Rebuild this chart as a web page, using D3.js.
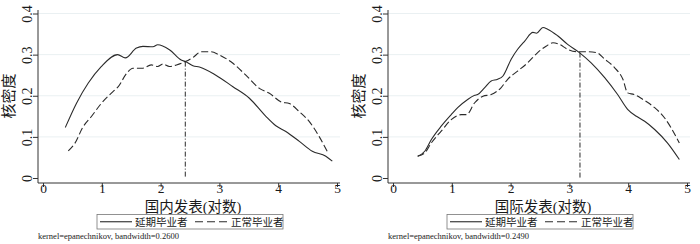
<!DOCTYPE html>
<html>
<head>
<meta charset="utf-8">
<script src="https://cdn.jsdelivr.net/npm/d3@7"></script>
<style>
  body { margin: 0; background: #fff; }
  svg text { fill: #1a1a1a; }
</style>
</head>
<body>
<div id="chart"></div>
<script>
// kernel density estimates
const domesticDelayed = [
  [0.38, 0.123], [0.57, 0.182], [0.77, 0.231], [0.99, 0.271], [1.27, 0.300],
  [1.40, 0.292], [1.59, 0.316], [1.70, 0.320], [1.87, 0.319], [1.95, 0.324],
  [2.15, 0.312], [2.35, 0.287], [2.44, 0.282], [2.55, 0.273], [2.66, 0.270],
  [2.94, 0.250], [3.23, 0.222], [3.51, 0.194], [3.79, 0.150], [3.96, 0.127],
  [4.13, 0.113], [4.36, 0.089], [4.58, 0.065], [4.81, 0.053], [4.92, 0.041]
]
const domesticNormal = [
  [0.43, 0.066], [0.54, 0.084], [0.68, 0.124], [0.82, 0.149], [0.99, 0.181],
  [1.19, 0.210], [1.28, 0.222], [1.42, 0.254], [1.53, 0.267], [1.70, 0.267],
  [1.84, 0.275], [1.95, 0.271], [2.04, 0.277], [2.15, 0.271], [2.27, 0.275],
  [2.42, 0.283], [2.55, 0.293], [2.69, 0.307], [2.86, 0.307], [3.00, 0.299],
  [3.23, 0.279], [3.45, 0.250], [3.68, 0.218], [3.85, 0.206], [4.05, 0.185],
  [4.19, 0.181], [4.36, 0.161], [4.53, 0.137], [4.70, 0.100], [4.84, 0.063]
]
const intlDelayed = [
  [0.42, 0.053], [0.54, 0.065], [0.65, 0.093], [0.82, 0.126], [0.99, 0.154],
  [1.10, 0.171], [1.27, 0.191], [1.39, 0.201], [1.44, 0.203], [1.56, 0.220],
  [1.67, 0.236], [1.78, 0.240], [1.87, 0.248], [2.01, 0.289], [2.12, 0.313],
  [2.24, 0.333], [2.38, 0.354], [2.44, 0.352], [2.55, 0.366], [2.63, 0.362],
  [2.80, 0.346], [2.97, 0.325], [3.17, 0.305], [3.37, 0.280], [3.60, 0.244],
  [3.82, 0.203], [3.99, 0.167], [4.14, 0.150], [4.28, 0.138], [4.45, 0.118],
  [4.67, 0.085], [4.87, 0.045]
]
const intlNormal = [
  [0.42, 0.053], [0.54, 0.061], [0.65, 0.085], [0.82, 0.114], [0.99, 0.142],
  [1.16, 0.154], [1.25, 0.154], [1.39, 0.183], [1.53, 0.199], [1.67, 0.203],
  [1.84, 0.220], [1.95, 0.240], [2.12, 0.260], [2.29, 0.280], [2.46, 0.305],
  [2.61, 0.321], [2.72, 0.329], [2.83, 0.325], [2.97, 0.313], [3.14, 0.307],
  [3.31, 0.307], [3.46, 0.305], [3.60, 0.289], [3.77, 0.268], [3.91, 0.240],
  [3.99, 0.207], [4.10, 0.203], [4.25, 0.191], [4.45, 0.171], [4.62, 0.146],
  [4.73, 0.122], [4.87, 0.085]
]

// crossing points marked by the dash-dot line
const crossings = [[2.42, 0.283], [3.18, 0.305]]

const xTicks = [0, 1, 2, 3, 4, 5]
const yTicks = [0, 0.1, 0.2, 0.3, 0.4]
const xTitles = ['国内发表(对数)', '国际发表(对数)']
const legendLabels = ['延期毕业者', '正常毕业者']
const notes = ['kernel=epanechnikov, bandwidth=0.2600', 'kernel=epanechnikov, bandwidth=0.2490']

const serif = '"Liberation Serif", "Times New Roman", serif'
// Latin glyphs from the serif face, Chinese falls back to Noto CJK
const mixed = '"Liberation Serif", "Noto Sans CJK SC", serif'

const svg = d3.select('#chart').append('svg')
  .attr('width', 700)
  .attr('height', 244)

const panels = [
  { left: 0, delayed: domesticDelayed, normal: domesticNormal, cross: crossings[0], title: xTitles[0], note: notes[0] },
  { left: 350, delayed: intlDelayed, normal: intlNormal, cross: crossings[1], title: xTitles[1], note: notes[1] }
]

panels.forEach(p => {
  const g = svg.append('g').attr('transform', `translate(${p.left}, 0)`)

  // plot region in panel coords
  const axisX = 38
  const axisY = 183
  const right = 340

  const x = d3.scaleLinear().domain([0, 5]).range([43, 337])
  const y = d3.scaleLinear().domain([0, 0.4]).range([178, 13.5])

  // faint grid
  g.selectAll('.grid')
    .data(yTicks.slice(1))
    .enter().append('line')
    .attr('class', 'grid')
    .attr('x1', axisX)
    .attr('x2', right)
    .attr('y1', d => y(d))
    .attr('y2', d => y(d))
    .attr('stroke', '#eaf0f2')
    .attr('stroke-width', 1)

  // y axis, labels turned vertical like the original
  const yAxis = g.append('g')
    .attr('transform', `translate(${axisX}, 0)`)
    .call(d3.axisLeft(y).tickValues(yTicks).tickSize(5).tickSizeOuter(0))
  yAxis.select('.domain').attr('stroke', '#333').attr('d', `M0,${axisY}V10`)
  yAxis.selectAll('.tick line').attr('stroke', '#333')
  yAxis.selectAll('.tick text')
    .text(d => d === 0 ? '0' : d3.format('.1f')(d))
    .attr('font-family', serif)
    .attr('font-size', 14)
    .attr('x', 0)
    .attr('dy', 0)
    .attr('text-anchor', 'middle')
    .attr('transform', 'translate(-6, 0) rotate(-90)')

  // x axis
  const xAxis = g.append('g')
    .attr('transform', `translate(0, ${axisY})`)
    .call(d3.axisBottom(x).tickValues(xTicks).tickFormat(d3.format('d')).tickSize(4).tickSizeOuter(0))
  xAxis.select('.domain').attr('stroke', '#333').attr('d', `M${axisX},0H${right}`)
  xAxis.selectAll('.tick line').attr('stroke', '#333')
  xAxis.selectAll('.tick text')
    .attr('font-family', serif)
    .attr('font-size', 13.5)
    .attr('y', 0)

  // axis titles
  g.append('text')
    .attr('transform', 'translate(9, 96) rotate(-90)')
    .attr('text-anchor', 'middle')
    .attr('dominant-baseline', 'central')
    .attr('font-family', mixed)
    .attr('font-size', 15)
    .text('核密度')

  g.append('text')
    .attr('x', 193)
    .attr('y', 212)
    .attr('text-anchor', 'middle')
    .attr('font-family', mixed)
    .attr('font-size', 14.5)
    .text(p.title)

  // curves
  const line = d3.line()
    .x(d => x(d[0]))
    .y(d => y(d[1]))
    .curve(d3.curveMonotoneX)

  g.append('path')
    .datum(p.delayed)
    .attr('d', line)
    .attr('fill', 'none')
    .attr('stroke', '#2a2a2a')
    .attr('stroke-width', 1.1)

  g.append('path')
    .datum(p.normal)
    .attr('d', line)
    .attr('fill', 'none')
    .attr('stroke', '#2a2a2a')
    .attr('stroke-width', 1.1)
    .attr('stroke-dasharray', '7,3')

  g.append('line')
    .attr('x1', x(p.cross[0]))
    .attr('x2', x(p.cross[0]))
    .attr('y1', y(p.cross[1]))
    .attr('y2', y(0))
    .attr('stroke', '#2a2a2a')
    .attr('stroke-width', 1)
    .attr('stroke-dasharray', '5,2,1,2')

  // legend
  const lg = g.append('g').attr('transform', 'translate(97, 214.5)')
  lg.append('rect')
    .attr('width', 186)
    .attr('height', 14.5)
    .attr('fill', '#fff')
    .attr('stroke', '#777')
    .attr('stroke-width', 0.8)
  lg.append('line')
    .attr('x1', 3).attr('x2', 35).attr('y1', 7.25).attr('y2', 7.25)
    .attr('stroke', '#2a2a2a').attr('stroke-width', 1.1)
  lg.append('text')
    .attr('x', 38).attr('y', 11.2)
    .attr('font-family', mixed).attr('font-size', 10.5)
    .text(legendLabels[0])
  lg.append('line')
    .attr('x1', 98).attr('x2', 131).attr('y1', 7.25).attr('y2', 7.25)
    .attr('stroke', '#2a2a2a').attr('stroke-width', 1.1)
    .attr('stroke-dasharray', '8,4')
  lg.append('text')
    .attr('x', 134).attr('y', 11.2)
    .attr('font-family', mixed).attr('font-size', 10.5)
    .text(legendLabels[1])

  // footnote
  g.append('text')
    .attr('x', 38)
    .attr('y', 238.5)
    .attr('font-family', serif)
    .attr('font-size', 8.5)
    .text(p.note)
})
</script>
</body>
</html>
